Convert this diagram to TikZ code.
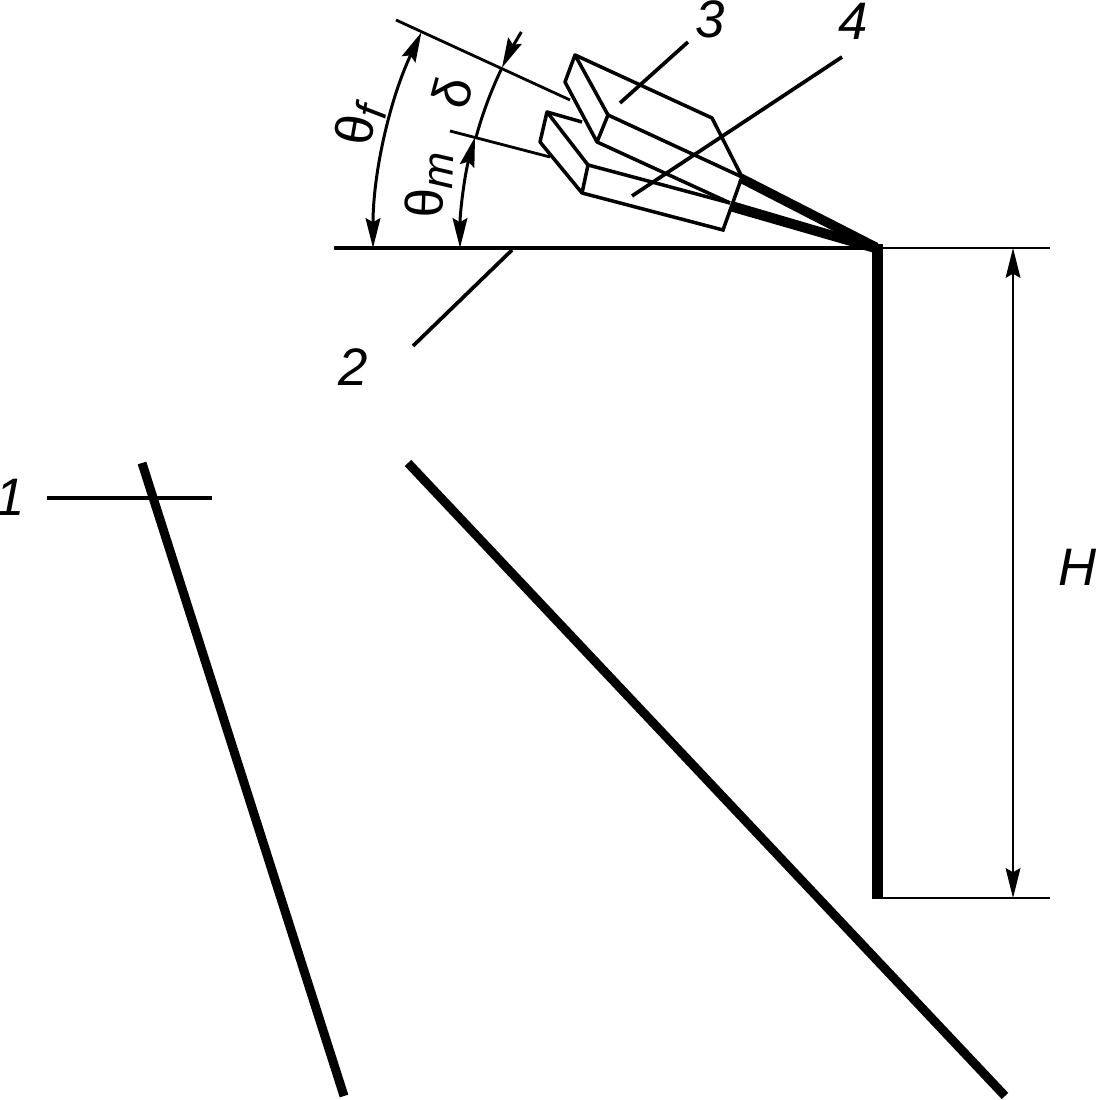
\documentclass[tikz,border=0pt]{standalone}
\usepackage{fontspec}
\setmainfont{Liberation Sans}
\usetikzlibrary{arrows.meta}
\tikzset{
    thinline/.style={line width=1pt},
    leader/.style={line width=1.05pt},
    strata/.style={line width=2.55pt},
    headtip/.tip={Stealth[length=8.5pt,width=4.2pt,inset=1.2pt]},
    dimarrow/.style={line width=0.85pt, headtip-headtip},
    tag/.style={font=\itshape\fontsize{15}{15}\selectfont, inner sep=0pt}
}
\newcommand{\subtag}[2]{\textup{#1}\raisebox{-0.35ex}{\fontsize{12.5}{12.5}\selectfont #2}}
\begin{document}
\begin{tikzpicture}[x=0.01cm,y=0.01cm]
    \useasboundingbox (0,0) rectangle (1098,1100);
    \coordinate (apex) at (878,852);
    % face and berm
    \draw[line width=0.9pt] (334,852) -- (apex);
    \draw[line width=0.45pt] (apex) -- (1050,852);
    \draw[line width=0.55pt] (878,202) -- (1050,202);
    \draw[line width=3.1pt] (877.5,856) -- (877.5,201);
    % strata
    \draw[strata] (142,637) -- (344,4);
    \draw[strata] (408,637) -- (1005,4);
    % leaders
    \draw[leader] (47,602) -- (212,602);
    \draw[leader] (413,754) -- (512,850);
    \draw[leader] (688,1058) -- (620,997);
    \draw[leader] (842,1043) -- (632,904);
    % lines of the angles
    \draw[line width=0.8pt] (396,1080) -- (570,1000);
    \draw[line width=0.8pt] (450,969) -- (550,943);
    % angles
    \draw[dimarrow] (apex) ++(180:505) arc[start angle=180,end angle=154.7,radius=505];
    \draw[dimarrow] (apex) ++(180:418) arc[start angle=180,end angle=164.6,radius=418];
    \draw[line width=0.85pt,-headtip] (apex) ++(148.8:417) arc[start angle=148.8,end angle=154.4,radius=417];
    \draw[line width=0.85pt] (apex) ++(154.4:417) arc[start angle=154.4,end angle=164.6,radius=417];
    % charge 3
    \draw[thinline,line join=round] (575,1045) -- (565,1018) -- (597,958) -- (608,985) -- cycle;
    \draw[thinline] (575,1045) -- (712,982) -- (742,923) -- (608,985);
    \draw[thinline] (597,958) -- (730,897);
    % charge 4
    \draw[thinline,line join=round] (547,988) -- (540,958) -- (582,907) -- (588,935) -- cycle;
    \draw[thinline] (547,988) -- (582,978);
    \draw[thinline] (588,935) -- (663,915) -- (730,897);
    \draw[thinline] (582,907) -- (723,870) -- (742,923);
    % jets
    \fill (743,926) -- (878,857) -- (878,846) -- (738,918) -- cycle;
    \fill (732,899) -- (878,856) -- (878,846) -- (729,889) -- cycle;
    % labels
    \node[tag] (lab1) at (10,603) {1};
    \node[tag] (lab2) at (353,733) {2};
    \node[tag] (lab3) at (710,1081) {3};
    \node[tag] (lab4) at (853,1079) {4};
    \node[tag] (labH) at (1078,533) {H};
    \node[tag,rotate=80] (thetaf) at (360,975) {\subtag{θ}{f}};
    \node[tag,rotate=88] (thetam) at (429,915) {\subtag{θ}{m}};
    \node[tag,rotate=75] (delta) at (452,1008) {\textup{δ}};
    % height
    \draw[line width=0.6pt,headtip-headtip] (1013,852) -- (1013,202);
\end{tikzpicture}
\end{document}
